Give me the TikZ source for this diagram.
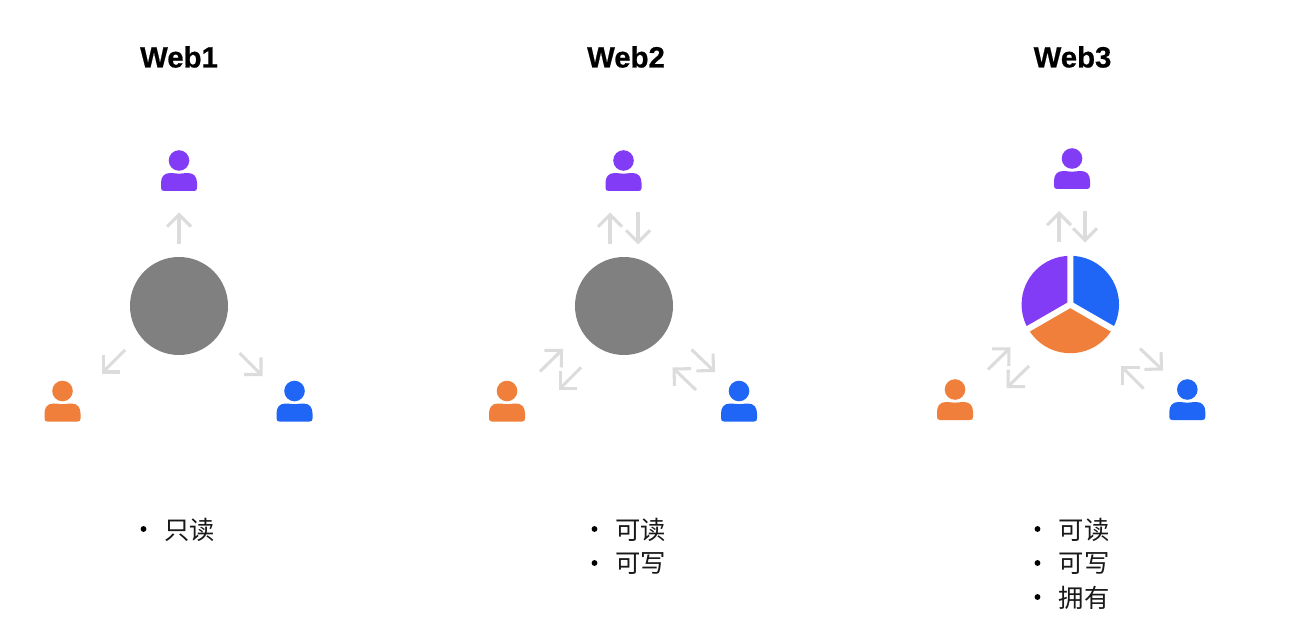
\documentclass[tikz,border=0pt]{standalone}
\usepackage{fontspec}
\setmainfont{Liberation Sans}
\newfontfamily\cjk{Noto Sans CJK SC}
\newfontfamily\titlefont[FakeBold=0.6]{Liberation Sans Bold}
\usetikzlibrary{arrows.meta}
\definecolor{pviolet}{HTML}{833CF6}
\definecolor{porange}{HTML}{EF7F3A}
\definecolor{pblue}{HTML}{1F66F6}
\definecolor{hubgray}{HTML}{808080}
\definecolor{flowgray}{HTML}{DCDCDC}
\tikzset{
  x=.75pt,y=-.75pt,
  title/.style={font=\titlefont\fontsize{22}{26}\selectfont,text=black,inner sep=0pt,anchor=center},
  hub/.style={circle,fill=hubgray,draw=none,minimum size=73.5pt,inner sep=0pt},
  flow/.style={draw=flowgray,line width=2.3pt,
    -{Straight Barb[length=9pt,width=18pt,line width=2.3pt]}},
  item/.style={font=\cjk\fontsize{19}{22}\selectfont,text=black!90,inner sep=0pt,anchor=west},
  dot/.style={circle,fill=black,minimum size=4.4pt,inner sep=0pt},
  pics/person/.style={code={
    \fill[#1] (0,0) circle (10.3);
    \fill[#1] (-18,27.5) -- (-18,22.5) .. controls (-18,16.5) and (-15,12.5) .. (-9,12.5)
      .. controls (-5,12.5) and (-3,13.2) .. (0,13.2)
      .. controls (3,13.2) and (5,12.5) .. (9,12.5)
      .. controls (15,12.5) and (18,16.5) .. (18,22.5) -- (18,27.5)
      .. controls (18,29.5) and (17,30.5) .. (15,30.5) -- (-15,30.5)
      .. controls (-17,30.5) and (-18,29.5) .. (-18,27.5) -- cycle;
  }}
}
\begin{document}
\begin{tikzpicture}
\useasboundingbox (0,0) rectangle (1298,620);
\fill[white] (0,0) rectangle (1298,620);

% titles
\node[title] (t1) at (179,57) {Web1};
\node[title] (t2) at (626,57) {Web2};
\node[title] (t3) at (1072.5,57) {Web3};

% Web1
\node[hub] (hubA) at (179,306) {};
\pic at (179,160.5) {person=pviolet};
\pic at (62.5,391) {person=porange};
\pic at (294.5,391) {person=pblue};
\coordinate (a1s) at (179,244.5);   \coordinate (a1e) at (179,212.5);
\coordinate (a2s) at (125,350);     \coordinate (a2e) at (101.5,373.5);
\coordinate (a3s) at (239.5,353);   \coordinate (a3e) at (262.5,376);
\draw[flow] (a1s) -- (a1e);
\draw[flow] (a2s) -- (a2e);
\draw[flow] (a3s) -- (a3e);

% Web2
\node[hub] (hubB) at (624,306) {};
\pic at (623.5,160.5) {person=pviolet};
\pic at (507,391) {person=porange};
\pic at (739,391) {person=pblue};
\coordinate (b1s) at (610,244.5);   \coordinate (b1e) at (610,212.5);
\coordinate (b2s) at (638,212.5);   \coordinate (b2e) at (638,244.5);
\coordinate (b3s) at (540,371.5);   \coordinate (b3e) at (563,349);
\coordinate (b4s) at (581,367.5);   \coordinate (b4e) at (558.5,390);
\coordinate (b5s) at (691.5,349.5); \coordinate (b5e) at (715,372);
\coordinate (b6s) at (696,390);     \coordinate (b6e) at (672.5,367.5);
\foreach \n in {1,...,6} \draw[flow] (b\n s) -- (b\n e);

% Web3
\begin{scope}[shift={(1070.3,304.5)},y=.75pt]
  \fill[pviolet] (0,0) -- (90:48.7) arc[start angle=90,end angle=210,radius=48.7] -- cycle;
  \fill[pblue] (0,0) -- (90:48.7) arc[start angle=90,end angle=-30,radius=48.7] -- cycle;
  \fill[porange] (0,0) -- (210:48.7) arc[start angle=210,end angle=330,radius=48.7] -- cycle;
  \draw[white,line width=4.6pt] (0,0) -- (90:52) (0,0) -- (210:52) (0,0) -- (330:52);
\end{scope}
\pic at (1072,158.5) {person=pviolet};
\pic at (955,389.5) {person=porange};
\pic at (1187.3,389.5) {person=pblue};
\coordinate (c1s) at (1059,242.5);   \coordinate (c1e) at (1059,211);
\coordinate (c2s) at (1085,211);     \coordinate (c2e) at (1085,242.5);
\coordinate (c3s) at (988,369.5);    \coordinate (c3e) at (1010.5,347.5);
\coordinate (c4s) at (1029,366);     \coordinate (c4e) at (1006.5,388);
\coordinate (c5s) at (1140,348.5);   \coordinate (c5e) at (1163,370.5);
\coordinate (c6s) at (1143.5,388.5); \coordinate (c6e) at (1121,366);
\foreach \n in {1,...,6} \draw[flow] (c\n s) -- (c\n e);

% lists
\node[dot] (d1a) at (143.5,529) {};
\node[item] (l1a) at (164,530) {只读};

\node[dot] (d2a) at (594.5,529) {};
\node[item] (l2a) at (615,530) {可读};
\node[dot] (d2b) at (594.5,563) {};
\node[item] (l2b) at (615,564) {可写};

\node[dot] (d3a) at (1037.5,529) {};
\node[item] (l3a) at (1058.5,530) {可读};
\node[dot] (d3b) at (1037.5,563) {};
\node[item] (l3b) at (1058.5,564) {可写};
\node[dot] (d3c) at (1037.5,597) {};
\node[item] (l3c) at (1058.5,598) {拥有};
\end{tikzpicture}
\end{document}
